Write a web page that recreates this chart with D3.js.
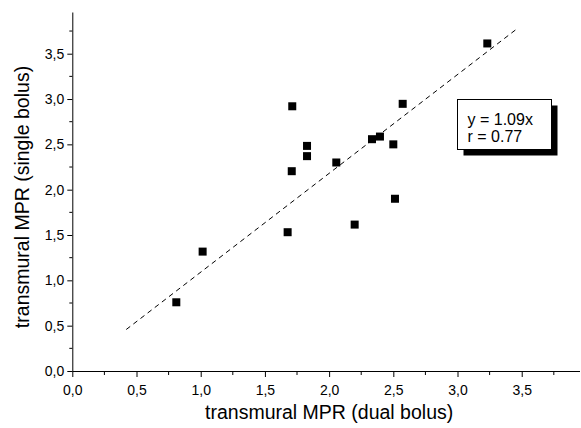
<!DOCTYPE html>
<html>
<head>
<meta charset="utf-8">
<script src="https://cdn.jsdelivr.net/npm/d3@7.9.0/dist/d3.min.js"></script>
<style>
  body { margin: 0; background: #fff; }
  svg { display: block; font-family: "Liberation Sans", Arial, sans-serif; }
  .axis path, .axis line { stroke: #000; stroke-width: 1; }
  .axis text { font-size: 14px; fill: #000; }
</style>
</head>
<body>
<div id="chart"></div>
<script>
// data: x = dual bolus, y = single bolus
const dualBolus   = [0.81, 1.015, 1.677, 1.709, 1.713, 1.828, 1.828, 2.056, 2.199, 2.334, 2.396, 2.50, 2.513, 2.573, 3.232];
const singleBolus = [0.758, 1.317, 1.531, 2.204, 2.92, 2.483, 2.37, 2.30, 1.615, 2.557, 2.586, 2.50, 1.90, 2.947, 3.613];
const fitSlope = 1.09;
const fitRange = [0.42, 3.46];
const majorTicks = [0, 0.5, 1, 1.5, 2, 2.5, 3, 3.5];
const minorTicks = [0.25, 0.75, 1.25, 1.75, 2.25, 2.75, 3.25, 3.75];
const fitText = ['y = 1.09x', 'r = 0.77'];

const W = 581, H = 428;
const m = {top: 12, right: 1.5, bottom: 57, left: 72.3};

const svg = d3.select('#chart').append('svg')
  .attr('width', W).attr('height', H);

const x = d3.scaleLinear().domain([0, 3.95]).range([m.left, W - m.right]);
const y = d3.scaleLinear().domain([0, 3.96]).range([H - m.bottom, m.top]);

const fmt = d => d3.format('.1f')(d).replace('.', ',');

// x axis
const gx = svg.append('g').attr('class', 'axis')
  .attr('transform', `translate(0,${H - m.bottom})`)
  .call(d3.axisBottom(x).tickValues(majorTicks).tickFormat(fmt).tickSizeInner(6).tickSizeOuter(0).tickPadding(8));
gx.append('g').selectAll('line').data(minorTicks).join('line')
  .attr('x1', d => x(d)).attr('x2', d => x(d)).attr('y1', 0).attr('y2', 4).attr('stroke', '#000');

// y axis
const gy = svg.append('g').attr('class', 'axis')
  .attr('transform', `translate(${m.left},0)`)
  .call(d3.axisLeft(y).tickValues(majorTicks).tickFormat(fmt).tickSizeInner(5).tickSizeOuter(0).tickPadding(3));
gy.append('g').selectAll('line').data(minorTicks).join('line')
  .attr('y1', d => y(d)).attr('y2', d => y(d)).attr('x1', 0).attr('x2', -3).attr('stroke', '#000');

// axis titles
svg.append('text')
  .attr('x', (x.range()[0] + 586) / 2 - 0).attr('y', 419)
  .attr('text-anchor', 'middle').attr('font-size', 19.5)
  .text('transmural MPR (dual bolus)');

svg.append('text')
  .attr('transform', `translate(29,197) rotate(-90)`)
  .attr('text-anchor', 'middle').attr('font-size', 19.5)
  .text('transmural MPR (single bolus)');

// fit line
svg.append('line')
  .attr('x1', x(fitRange[0])).attr('y1', y(fitSlope * fitRange[0]))
  .attr('x2', x(fitRange[1])).attr('y2', y(fitSlope * fitRange[1]))
  .attr('stroke', '#000').attr('stroke-width', 1).attr('stroke-dasharray', '5,4');

// points
const pts = dualBolus.map((d, i) => ({x: d, y: singleBolus[i]}));
svg.append('g').selectAll('rect').data(pts).join('rect')
  .attr('x', d => x(d.x) - 4).attr('y', d => y(d.y) - 4)
  .attr('width', 8).attr('height', 8).attr('fill', '#000');

// fit text box with shadow
const box = {x: 457.5, y: 99.5, w: 94, h: 50};
svg.append('rect')
  .attr('x', box.x + 6).attr('y', box.y + 6).attr('width', box.w).attr('height', box.h)
  .attr('fill', '#000');
svg.append('rect')
  .attr('x', box.x).attr('y', box.y).attr('width', box.w).attr('height', box.h)
  .attr('fill', '#fff').attr('stroke', '#000').attr('stroke-width', 1);
svg.append('g').selectAll('text').data(fitText).join('text')
  .attr('x', box.x + 10).attr('y', (d, i) => box.y + 25.5 + i * 17)
  .attr('font-size', 16)
  .text(d => d);
</script>
</body>
</html>
